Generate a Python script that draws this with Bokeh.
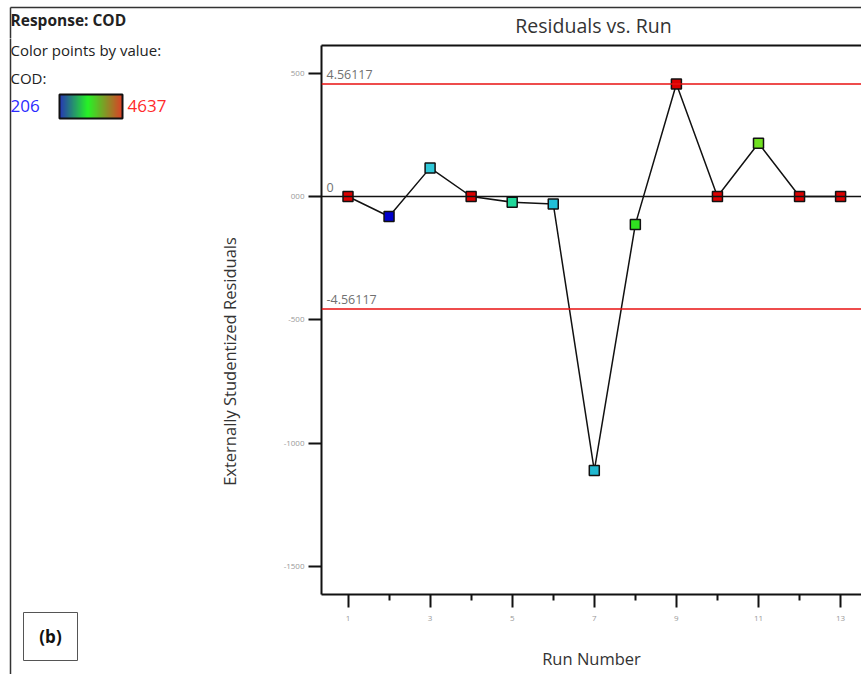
import math
from bokeh.plotting import figure
from bokeh.layouts import column, row
from bokeh.models import Range1d, Span, LinearAxis, FixedTicker, ColumnDataSource
from bokeh.core.properties import value
from bokeh.embed import file_html
from bokeh.resources import INLINE

# ---------------- data ----------------
runs = [1, 2, 3, 4, 5, 6, 7, 8, 9, 10, 11, 12, 13]
residuals = [0.0, -0.81, 1.16, 0.0, -0.23, -0.30, -11.11, -1.13, 4.56, 0.0, 2.16, 0.0, 0.0]
point_colors = ["#dd0000", "#0000cc", "#30c8d8", "#dd0000", "#20d89a", "#20c0d8", "#20b8d0",
                "#30e020", "#dd0000", "#dd0000", "#70e020", "#dd0000", "#dd0000"]
limit_upper = 4.56117
limit_lower = -4.56117
y_ticks = [5, 0, -5, -10, -15]
y_tick_labels = ["500", "000", "-500", "-1000", "-1500"]
x_ticks = [1, 3, 5, 7, 9, 11, 13]
x_minor_ticks = [2, 4, 6, 8, 10, 12]
x_tick_labels = ["1", "3", "5", "7", "9", "11", "13"]
cod_min_label = "206"
cod_max_label = "4637"
title_text = "Residuals vs. Run"
x_label = "Run Number"
y_label = "Externally Studentized Residuals"

FONT = "Open Sans"
W, H = 861, 674
TOP_H = 38          # height of the title strip
LEFT_W = 245        # width of the info panel
FL, FT, FB = 321, 45, 594   # frame left / top / bottom in page pixels

# pixel mapping of the main frame (used for range limits)
X1_PX, DX_PX = 347.5, 41.05
Y0_PX, DY_PX = 196.0, 24.67


def dx(px):
    return 1 + (px - X1_PX) / DX_PX


def dy(py):
    return (Y0_PX - py) / DY_PX


def bare(width, height, xr, yr):
    f = figure(width=width, height=height, output_backend="svg", toolbar_location=None,
               x_range=xr, y_range=yr, x_axis_type=None, y_axis_type=None,
               min_border=0, min_border_left=0, min_border_right=0,
               min_border_top=0, min_border_bottom=0)
    f.outline_line_color = None
    f.xgrid.visible = False
    f.ygrid.visible = False
    f.frame_align = False
    return f


# ---------------- title strip ----------------
top = bare(W, TOP_H, Range1d(0, W), Range1d(TOP_H, 0))
top.segment(x0=[10, 10], y0=[7, 7], x1=[W + 5, 10], y1=[7, TOP_H + 2],
            line_color="#333333", line_width=1.5)
top.text(x=[(FL + W) / 2 + 2], y=[25], text=[title_text], text_font=value(FONT),
         text_font_size="19.5px", text_color="#333333", text_align="center",
         text_baseline="middle")
top.text(x=[10], y=[19], text=["Response: COD"], text_font=value(FONT),
         text_font_size="15.5px", text_font_style="bold", text_color="#222222",
         text_align="left", text_baseline="middle")

# ---------------- left info panel ----------------
left = bare(LEFT_W, H - TOP_H, Range1d(0, LEFT_W), Range1d(H, TOP_H))
left.segment(x0=[10], y0=[TOP_H - 2], x1=[10], y1=[H + 2], line_color="#333333", line_width=1.5)
left.text(x=[10, 10], y=[49, 77], text=["Color points by value:", "COD:"], text_font=value(FONT),
          text_font_size="15px", text_color="#222222", text_align="left", text_baseline="middle")
left.text(x=[10], y=[105], text=[cod_min_label], text_font=value(FONT), text_font_size="17px",
          text_color="#2a2aff", text_align="left", text_baseline="middle")
left.text(x=[127], y=[105], text=[cod_max_label], text_font=value(FONT), text_font_size="17px",
          text_color="#ff2a2a", text_align="left", text_baseline="middle")


def lerp(c1, c2, t):
    return "#%02x%02x%02x" % tuple(int(round(a + (b - a) * t)) for a, b in zip(c1, c2))


stops = [(0.0, (0, 16, 170)), (0.45, (0, 240, 0)), (1.0, (215, 30, 0))]
bx0, bx1, by0, by1 = 59, 122, 94, 118
n = bx1 - bx0
lefts, rights, cols = [], [], []
for i in range(n):
    t = (i + 0.5) / n
    for (t0, c0), (t1, c1) in zip(stops[:-1], stops[1:]):
        if t0 <= t <= t1:
            cols.append(lerp(c0, c1, (t - t0) / (t1 - t0)))
            break
    lefts.append(bx0 + i)
    rights.append(bx0 + i + 1.2)
left.quad(left=lefts, right=rights, top=by0, bottom=by1, fill_color=cols, line_color=None)
left.quad(left=[bx0], right=[bx1], top=[by0], bottom=[by1], fill_alpha=0,
          line_color="#111111", line_width=2)

# (b) tag
left.quad(left=[23], right=[77], top=[612], bottom=[660], fill_color="white",
          line_color="#555555", line_width=1)
left.text(x=[50], y=[636], text=["(b)"], text_font=value(FONT), text_font_size="17px",
          text_font_style="bold", text_color="#111111", text_align="center",
          text_baseline="middle")

# y-axis title (placed at the reference position)
left.text(x=[229], y=[361], text=[y_label], angle=math.pi / 2, text_font=value(FONT),
          text_font_size="16.5px", text_color="#333333", text_align="center",
          text_baseline="middle")

# ---------------- main plot ----------------
p = figure(width=W - LEFT_W, height=H - TOP_H, output_backend="svg", toolbar_location=None,
           x_range=Range1d(dx(FL), dx(W)), y_range=Range1d(dy(FB), dy(FT)),
           min_border_left=FL - LEFT_W, min_border_right=0, min_border_top=FT - TOP_H,
           min_border_bottom=H - FB)
p.frame_align = False
p.outline_line_color = None
p.xgrid.visible = False
p.ygrid.visible = False

for ax in (p.xaxis[0], p.yaxis[0]):
    ax.axis_line_width = 2
    ax.axis_line_color = "#111111"
    ax.major_tick_line_width = 2
    ax.major_tick_line_color = "#111111"
    ax.major_tick_in = 0
    ax.major_tick_out = 13
    ax.major_label_text_font = FONT
    ax.major_label_text_font_size = "8px"
    ax.major_label_text_color = "#999999"
    ax.axis_label_text_font = FONT
    ax.axis_label_text_font_style = "normal"
    ax.axis_label_text_color = "#333333"

p.xaxis.ticker = FixedTicker(ticks=x_ticks, minor_ticks=x_minor_ticks)
p.xaxis.major_label_overrides = {t: l for t, l in zip(x_ticks, x_tick_labels)}
p.xaxis.minor_tick_in = 0
p.xaxis.minor_tick_out = 6
p.xaxis.minor_tick_line_width = 2
p.xaxis.minor_tick_line_color = "#111111"
p.xaxis.major_label_standoff = 8
p.xaxis.axis_label = x_label
p.xaxis.axis_label_text_font_size = "16.5px"
p.xaxis.axis_label_standoff = 23

p.yaxis.ticker = FixedTicker(ticks=y_ticks, minor_ticks=[])
p.yaxis.major_label_overrides = {t: l for t, l in zip(y_ticks, y_tick_labels)}
p.yaxis.major_label_standoff = 4

# top border of the frame
top_axis = LinearAxis(ticker=FixedTicker(ticks=[]), axis_line_width=2,
                      axis_line_color="#111111", major_tick_line_color=None,
                      minor_tick_line_color=None, major_label_text_font_size="0px")
p.add_layout(top_axis, "above")

# reference lines
p.add_layout(Span(location=0, dimension="width", line_color="#111111", line_width=1.5))
p.add_layout(Span(location=limit_upper, dimension="width", line_color="#e81010", line_width=1.5))
p.add_layout(Span(location=limit_lower, dimension="width", line_color="#e81010", line_width=1.5))

src = ColumnDataSource(dict(x=runs, y=residuals, c=point_colors))
p.line("x", "y", source=src, line_color="#111111", line_width=1.5)
p.scatter("x", "y", source=src, marker="square", size=10, fill_color="c",
          line_color="#111111", line_width=1.5)

x_txt = p.x_range.start + 5 / DX_PX
p.text(x=[x_txt, x_txt, x_txt], y=[limit_upper, 0, limit_lower],
       text=[f"{limit_upper:g}", "0", f"{limit_lower:g}"], text_font=value(FONT),
       text_font_size="12.5px", text_color="#707070", text_align="left",
       text_baseline="bottom", y_offset=-5)

layout = column(top, row(left, p, spacing=0), spacing=0)
open("out.html", "w").write(file_html(layout, INLINE))
